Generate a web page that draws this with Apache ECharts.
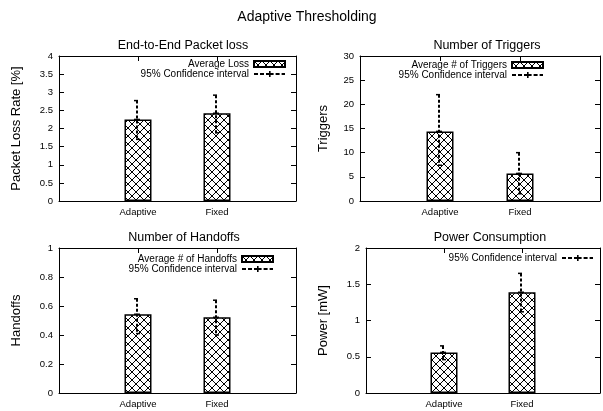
<!DOCTYPE html>
<html>
<head>
<meta charset="utf-8">
<script src="https://cdn.jsdelivr.net/npm/echarts@6/dist/echarts.min.js"></script>
<style>
html,body{margin:0;padding:0;background:#fff;}
#chart{width:603px;height:411px;}
</style>
</head>
<body>
<div id="chart"></div>
<script>
// ---- data ----
const categories = ['Adaptive', 'Fixed'];

const lossMean = [2.25, 2.42];
const lossLow  = [1.70, 1.88];
const lossHigh = [2.77, 2.92];

const trigMean = [14.4, 5.7];
const trigLow  = [7.4, 1.5];
const trigHigh = [22.0, 10.0];

const handMean = [0.543, 0.522];
const handLow  = [0.41, 0.40];
const handHigh = [0.65, 0.64];

const powerMean = [0.56, 1.39];
const powerLow  = [0.46, 1.12];
const powerHigh = [0.65, 1.65];

const lossTicks  = {min: 0, max: 4,  interval: 0.5};
const trigTicks  = {min: 0, max: 30, interval: 5};
const handTicks  = {min: 0, max: 1,  interval: 0.2};
const powerTicks = {min: 0, max: 2,  interval: 0.5};

// ---- styling helpers ----
const FONT = '"Liberation Sans", Arial, Helvetica, sans-serif';

function hatchCanvas() {
  const c = document.createElement('canvas');
  const s = 8;
  c.width = s; c.height = s;
  const ctx = c.getContext('2d');
  ctx.fillStyle = '#fff';
  ctx.fillRect(0, 0, s, s);
  ctx.strokeStyle = '#000';
  ctx.lineWidth = 1;
  ctx.beginPath();
  ctx.moveTo(0, 0); ctx.lineTo(s, s);
  ctx.moveTo(s, 0); ctx.lineTo(0, s);
  ctx.stroke();
  return c;
}
const hatch = {image: hatchCanvas(), repeat: 'repeat'};

const CI_ICON = 'path://M0,2h4v2h-4z M6,2h4v2h-4z M12,2h3v2h-3z M15,0h1.6v6h-1.6z M16.6,2h3v2h-3z M21.6,2h4v2h-4z M27.6,2h3.4v2h-3.4z';

const grids = [
  {left: 59,  top: 56,  width: 237, height: 145},
  {left: 360, top: 56,  width: 244, height: 145},
  {left: 59,  top: 248, width: 237, height: 145},
  {left: 366, top: 248, width: 240, height: 145}
];

const panels = [
  {title: 'End-to-End Packet loss', yName: 'Packet Loss Rate [%]', barName: 'Average Loss',
   mean: lossMean, low: lossLow, high: lossHigh, ticks: lossTicks, titleX: 178, titleY: 34, nameGap: 36,
   legend: {right: 317, top: 59}, showBarLegend: true},
  {title: 'Number of Triggers', yName: 'Triggers', barName: 'Average # of Triggers',
   mean: trigMean, low: trigLow, high: trigHigh, ticks: trigTicks, titleX: 482, titleY: 34, nameGap: 30,
   legend: {right: 59, top: 60}, showBarLegend: true},
  {title: 'Number of Handoffs', yName: 'Handoffs', barName: 'Average # of Handoffs',
   mean: handMean, low: handLow, high: handHigh, ticks: handTicks, titleX: 179, titleY: 226, nameGap: 36,
   legend: {right: 329, top: 254}, showBarLegend: true},
  {title: 'Power Consumption', yName: 'Power [mW]', barName: 'Average Power',
   mean: powerMean, low: powerLow, high: powerHigh, ticks: powerTicks, titleX: 485, titleY: 226, nameGap: 36,
   legend: {right: 10, top: 253}, showBarLegend: false}
];

const axisLineStyle = {show: true, onZero: false, lineStyle: {color: '#000', width: 1}};
const tickStyle = {show: true, inside: true, length: 5, lineStyle: {color: '#000', width: 1}};

const option = {
  backgroundColor: '#fff',
  animation: false,
  textStyle: {fontFamily: FONT, color: '#000'},
  title: [{text: 'Adaptive Thresholding', left: 302, top: 5, textAlign: 'center',
           textStyle: {fontFamily: FONT, fontSize: 14, fontWeight: 'normal', color: '#000'}}],
  grid: grids,
  xAxis: [], yAxis: [], series: [], legend: []
};

panels.forEach((p, i) => {
  option.title.push({text: p.title, left: p.titleX, top: p.titleY, textAlign: 'center',
    textStyle: {fontFamily: FONT, fontSize: 12.5, fontWeight: 'normal', color: '#000'}});

  option.xAxis.push({
    type: 'value', gridIndex: i, position: 'bottom', min: -1, max: 2, interval: 1,
    axisLine: axisLineStyle, axisTick: tickStyle, splitLine: {show: false},
    axisLabel: {fontFamily: FONT, fontSize: 9.5, color: '#000', margin: 6,
      formatter: v => (categories[v] !== undefined ? categories[v] : '')}
  });
  option.xAxis.push({
    type: 'value', gridIndex: i, position: 'top', min: -1, max: 2, interval: 1,
    axisLine: axisLineStyle, axisTick: tickStyle, splitLine: {show: false},
    axisLabel: {show: false}
  });
  option.yAxis.push({
    type: 'value', gridIndex: i, position: 'left',
    min: p.ticks.min, max: p.ticks.max, interval: p.ticks.interval,
    name: p.yName, nameLocation: 'middle', nameRotate: 90, nameGap: p.nameGap,
    nameTextStyle: {fontFamily: FONT, fontSize: 13, color: '#000'},
    axisLine: axisLineStyle, axisTick: tickStyle, splitLine: {show: false},
    axisLabel: {fontFamily: FONT, fontSize: 9.5, color: '#000', margin: 6}
  });
  option.yAxis.push({
    type: 'value', gridIndex: i, position: 'right',
    min: p.ticks.min, max: p.ticks.max, interval: p.ticks.interval,
    axisLine: axisLineStyle, axisTick: tickStyle, splitLine: {show: false},
    axisLabel: {show: false}
  });

  option.series.push({
    type: 'bar', name: p.barName, xAxisIndex: 2 * i, yAxisIndex: 2 * i,
    barWidth: 27,
    itemStyle: {color: hatch, borderColor: '#000', borderWidth: 1.5},
    data: p.mean.map((v, k) => [k, v])
  });

  option.series.push({
    type: 'custom', name: '95% Confidence interval', xAxisIndex: 2 * i, yAxisIndex: 2 * i,
    itemStyle: {color: '#000'},
    z: 5,
    renderItem: function (params, api) {
      const x = api.value(0);
      const pLo = api.coord([x, api.value(1)]);
      const pHi = api.coord([x, api.value(2)]);
      const pM = api.coord([x, api.value(3)]);
      const cx = pHi[0] - 1;
      return {
        type: 'group',
        children: [
          {type: 'line', shape: {x1: cx, y1: pHi[1], x2: cx, y2: pLo[1]},
           style: {stroke: '#000', lineWidth: 2, lineDash: [3, 2]}},
          {type: 'line', shape: {x1: cx - 3, y1: pHi[1], x2: cx + 1, y2: pHi[1]},
           style: {stroke: '#000', lineWidth: 1.5}},
          {type: 'line', shape: {x1: cx - 1, y1: pLo[1], x2: cx + 3, y2: pLo[1]},
           style: {stroke: '#000', lineWidth: 1.5}},
          {type: 'line', shape: {x1: cx - 3, y1: pM[1], x2: cx + 3, y2: pM[1]},
           style: {stroke: '#000', lineWidth: 1.5}}
        ]
      };
    },
    data: p.mean.map((v, k) => [k, p.low[k], p.high[k], v])
  });

  const legData = [];
  if (p.showBarLegend) legData.push({name: p.barName, icon: 'rect'});
  legData.push({name: '95% Confidence interval', icon: CI_ICON});
  option.legend.push({
    orient: 'vertical', align: 'right', right: p.legend.right, top: p.legend.top,
    itemWidth: 31, itemHeight: 6, itemGap: 0, padding: 0,
    selectedMode: false, symbolKeepAspect: false,
    textStyle: {fontFamily: FONT, fontSize: 10, color: '#000', lineHeight: 10},
    data: legData
  });
});

const chart = echarts.init(document.getElementById('chart'), null, {renderer: 'canvas'});
chart.setOption(option);
</script>
</body>
</html>
